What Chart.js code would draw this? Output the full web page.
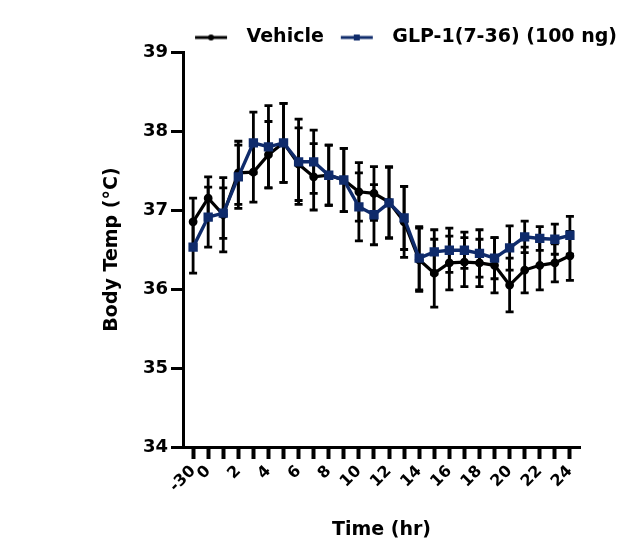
<!DOCTYPE html>
<html>
<head>
<meta charset="utf-8">
<title>Body Temp</title>
<script src="https://cdn.jsdelivr.net/npm/chart.js@4/dist/chart.umd.min.js"></script>
<style>
  html, body { margin: 0; padding: 0; background: #fff; }
  #wrap { width: 624px; height: 548px; }
</style>
</head>
<body>
<div id="wrap"><canvas id="temp-chart" width="624" height="548"></canvas></div>
<script>
/* body temperature time course — vehicle vs GLP-1(7-36) */
'use strict';

const times      = [-1, 0, 1, 2, 3, 4, 5, 6, 7, 8, 9, 10, 11, 12, 13, 14, 15, 16, 17, 18, 19, 20, 21, 22, 23, 24];
const xTickVals  = [-1, 0, 1, 2, 3, 4, 5, 6, 7, 8, 9, 10, 11, 12, 13, 14, 15, 16, 17, 18, 19, 20, 21, 22, 23, 24];
const xTickText  = ['-30', '0', '', '2', '', '4', '', '6', '', '8', '', '10', '', '12', '', '14', '', '16', '', '18', '', '20', '', '22', '', '24'];
const yTickVals  = [34, 35, 36, 37, 38, 39];

const seriesNames = ['Vehicle', 'GLP-1(7-36) (100 ng)'];
const vehicle    = [36.85, 37.15, 36.94, 37.47, 37.48, 37.70, 37.85, 37.58, 37.42, 37.44, 37.38, 37.23, 37.21,
                    37.10, 36.85, 36.37, 36.20, 36.33, 36.34, 36.33, 36.30, 36.05, 36.24, 36.30, 36.33, 36.42];
const vehicleSem = [0.30, 0.27, 0.47, 0.40, 0.38, 0.42, 0.50, 0.46, 0.42, 0.38, 0.40, 0.37, 0.34,
                    0.45, 0.45, 0.40, 0.43, 0.34, 0.31, 0.30, 0.35, 0.34, 0.29, 0.31, 0.24, 0.31];
const glp        = [36.53, 36.91, 36.96, 37.42, 37.85, 37.80, 37.85, 37.61, 37.61, 37.44, 37.38, 37.04, 36.94,
                    37.09, 36.90, 36.39, 36.47, 36.49, 36.49, 36.45, 36.39, 36.52, 36.66, 36.64, 36.63, 36.68];
const glpSem     = [0.33, 0.38, 0.32, 0.40, 0.39, 0.52, 0.50, 0.54, 0.40, 0.38, 0.40, 0.43, 0.38,
                    0.45, 0.40, 0.40, 0.28, 0.28, 0.23, 0.30, 0.26, 0.28, 0.20, 0.15, 0.19, 0.24];

const NAVY = '#0f2b6b';

// small legend glyph: line with marker in the middle
function legendGlyph(color, square) {
  const c = document.createElement('canvas');
  c.width = 52; c.height = 12;
  const g = c.getContext('2d');
  g.strokeStyle = color; g.fillStyle = color; g.lineWidth = 3;
  g.beginPath(); g.moveTo(10, 6); g.lineTo(42, 6); g.stroke();
  if (square) { g.fillRect(23, 3, 6, 6); }
  else { g.beginPath(); g.arc(26, 6, 3, 0, Math.PI * 2); g.fill(); }
  return c;
}

// SEM whiskers, drawn under the lines
const errorBars = {
  id: 'errorBars',
  beforeDatasetsDraw(chart) {
    const { ctx, scales: { x, y } } = chart;
    ctx.save();
    ctx.strokeStyle = '#000';
    ctx.lineWidth = 2.8;
    [[vehicle, vehicleSem], [glp, glpSem]].forEach(([vals, sems]) => {
      vals.forEach((v, i) => {
        const px  = x.getPixelForValue(times[i]);
        const top = y.getPixelForValue(v + sems[i]);
        const bot = y.getPixelForValue(v - sems[i]);
        ctx.beginPath();
        ctx.moveTo(px, top);     ctx.lineTo(px, bot);
        ctx.moveTo(px - 4, top); ctx.lineTo(px + 4, top);
        ctx.moveTo(px - 4, bot); ctx.lineTo(px + 4, bot);
        ctx.stroke();
      });
    });
    ctx.restore();
  }
};

// nudge the legend a few px down, it sits closer to the plot in the original
const legendNudge = {
  id: 'legendNudge',
  afterLayout(chart) {
    if (chart.legend) { chart.legend.top += 5; chart.legend.bottom += 5; }
  }
};

Chart.defaults.font.family = '"DejaVu Sans", sans-serif';
Chart.defaults.font.weight = 'bold';
Chart.defaults.color = '#000';

const ctx = document.getElementById('temp-chart').getContext('2d');
new Chart(ctx, {
  type: 'line',
  data: {
    datasets: [{
      label: seriesNames[0],
      data: times.map((t, i) => ({ x: t, y: vehicle[i] })),
      borderColor: '#000', backgroundColor: '#000',
      borderWidth: 3.2, pointRadius: 2.8, pointStyle: 'circle',
      order: 1
    }, {
      label: seriesNames[1],
      data: times.map((t, i) => ({ x: t, y: glp[i] })),
      borderColor: NAVY, backgroundColor: NAVY,
      borderWidth: 3.4, pointRadius: 4.2, pointStyle: 'rect',
      order: 0
    }]
  },
  options: {
    responsive: false, animation: false,
    layout: { padding: { top: 16, left: 0, right: 0, bottom: 0 } },
    plugins: {
      tooltip: { enabled: false },
      legend: {
        position: 'top', align: 'end',
        labels: {
          font: { size: 19, weight: 'bold' }, color: '#000',
          padding: 7, usePointStyle: true, pointStyleWidth: 52,
          generateLabels: () => [
            { text: seriesNames[0], pointStyle: legendGlyph('#000', false), fillStyle: '#000', strokeStyle: '#000', lineWidth: 0, datasetIndex: 0 },
            { text: seriesNames[1], pointStyle: legendGlyph(NAVY, true), fillStyle: NAVY, strokeStyle: NAVY, lineWidth: 0, datasetIndex: 1 }
          ]
        }
      }
    },
    scales: {
      x: {
        type: 'linear', min: -1.67, max: 24.67,
        afterFit: s => { s.height = 101; },
        afterBuildTicks: s => { s.ticks = xTickVals.map(v => ({ value: v })); },
        grid: { display: true, drawOnChartArea: false, tickLength: 12, tickWidth: 4, tickColor: '#000' },
        border: { display: true, color: '#000', width: 3 },
        ticks: {
          autoSkip: false, minRotation: 45, maxRotation: 45, padding: 3,
          font: { size: 16, weight: 'bold' }, color: '#000',
          callback: v => xTickText[xTickVals.indexOf(v)] ?? ''
        },
        title: { display: true, text: 'Time (hr)', font: { size: 19, weight: 'bold' }, color: '#000', padding: { top: 0, bottom: 7 } }
      },
      y: {
        min: 34, max: 39,
        afterFit: s => { s.width = 183; },
        afterBuildTicks: s => { s.ticks = yTickVals.map(v => ({ value: v })); },
        grid: { display: true, drawOnChartArea: false, tickLength: 12, tickWidth: 3, tickColor: '#000' },
        border: { display: true, color: '#000', width: 3 },
        ticks: { padding: 3, font: { size: 18, weight: 'bold' }, color: '#000' },
        title: { display: true, text: 'Body Temp (°C)', font: { size: 19, weight: 'bold' }, color: '#000', padding: { top: 101, bottom: 0 } }
      },
      // empty right-hand spacer so the plot ends where the reference does
      y2: {
        position: 'right', display: true,
        afterFit: s => { s.width = 44; },
        grid: { display: false }, border: { display: false },
        ticks: { display: false }
      }
    }
  },
  plugins: [errorBars, legendNudge]
});
</script>
</body>
</html>
